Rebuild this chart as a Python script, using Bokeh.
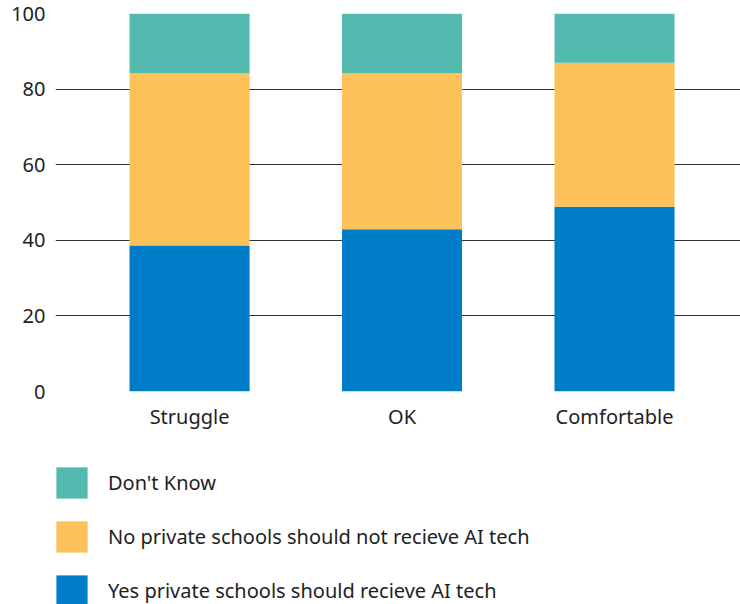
from bokeh.plotting import figure
from bokeh.layouts import column
from bokeh.models import Range1d, Legend, LegendItem, FixedTicker, ColumnDataSource
from bokeh.embed import file_html
from bokeh.resources import INLINE

categories = ["Struggle", "OK", "Comfortable"]
yes_vals = [38.6, 42.9, 48.9]
no_vals = [45.6, 41.3, 38.1]
dk_vals = [15.8, 15.8, 13.0]
series_keys = ["yes", "no", "dk"]
series_names = ["Yes private schools should recieve AI tech",
                "No private schools should not recieve AI tech",
                "Don't Know"]
colors = ["#007DC8", "#FCC159", "#52BAAE"]
y_ticks = [0, 20, 40, 60, 80, 100]

FONT = "Noto Sans"
TXT = "#222222"

source = ColumnDataSource(dict(x=list(range(len(categories))), yes=yes_vals, no=no_vals, dk=dk_vals))

# ---- main chart ----
p = figure(frame_width=685, frame_height=378, output_backend="svg", toolbar_location=None,
           x_range=Range1d(-0.631, 2.593), y_range=Range1d(0, 100),
           min_border_left=55, min_border_right=0, min_border_top=13, min_border_bottom=57)
p.outline_line_color = None
p.background_fill_color = "white"
p.border_fill_color = "white"

rs = p.vbar_stack(series_keys, x="x", width=0.565, color=colors, line_color=None, source=source)

p.xgrid.visible = False
p.ygrid.ticker = FixedTicker(ticks=y_ticks)
p.ygrid.grid_line_color = "#333333"
p.ygrid.grid_line_width = 1.2

p.yaxis.ticker = FixedTicker(ticks=y_ticks)
p.xaxis.ticker = FixedTicker(ticks=list(range(len(categories))))
p.xaxis.major_label_overrides = {i: c for i, c in enumerate(categories)}
for ax in (p.xaxis, p.yaxis):
    ax.axis_line_color = None
    ax.major_tick_line_color = None
    ax.minor_tick_line_color = None
    ax.major_tick_out = 0
    ax.major_tick_in = 0
    ax.major_label_text_font = FONT
    ax.major_label_text_font_size = "20px"
    ax.major_label_text_color = TXT
p.yaxis.major_label_standoff = 10
p.xaxis.major_label_standoff = 11

# ---- legend panel ----
lf = figure(frame_width=740, frame_height=156, output_backend="svg", toolbar_location=None,
            x_range=Range1d(0, 1), y_range=Range1d(0, 1), x_axis_type=None, y_axis_type=None,
            min_border_left=0, min_border_right=0, min_border_top=0, min_border_bottom=0)
lf.outline_line_color = None
lf.xgrid.visible = False
lf.ygrid.visible = False
lf.border_fill_color = "white"

swatches = [lf.vbar(x=[-5], top=[0], width=0.1, fill_color=c, line_color=None) for c in colors]
items = [LegendItem(label=series_names[i], renderers=[swatches[i]]) for i in (2, 1, 0)]
legend = Legend(items=items, location=(52, -6), orientation="vertical",
                glyph_width=39, glyph_height=39, label_standoff=17, spacing=15,
                padding=0, margin=0, border_line_color=None, background_fill_alpha=0,
                label_text_font=FONT, label_text_font_size="20px", label_text_color=TXT)
lf.add_layout(legend, "center")

layout = column(p, lf, spacing=0)
open("out.html", "w").write(file_html(layout, INLINE))
